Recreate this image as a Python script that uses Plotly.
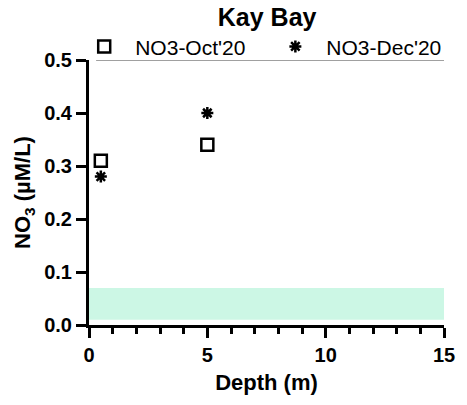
import plotly.graph_objects as go

# Nitrate profile, Kay Bay
depth_oct = [0.5, 5]
no3_oct = [0.31, 0.34]
depth_dec = [0.5, 5]
no3_dec = [0.28, 0.40]

band_low, band_high = 0.01, 0.07
x_ticks = [0, 5, 10, 15]
y_ticks = [0.0, 0.1, 0.2, 0.3, 0.4, 0.5]

FONT = "Liberation Sans, Arial, sans-serif"

fig = go.Figure()

fig.add_trace(go.Scatter(
    x=depth_oct, y=no3_oct, mode="markers", name="NO3-Oct'20",
    legend="legend",
    marker=dict(symbol="square-open", size=12, color="black",
                line=dict(width=2.5, color="black")),
))
fig.add_trace(go.Scatter(
    x=depth_dec, y=no3_dec, mode="markers", name="NO3-Dec'20",
    legend="legend2",
    marker=dict(symbol="asterisk-open", size=10, color="black",
                line=dict(width=2.5, color="black")),
))

# reference range band
fig.add_shape(type="rect", xref="x", yref="y", x0=0, x1=15,
              y0=band_low, y1=band_high, fillcolor="rgb(204,247,229)",
              line=dict(width=0), layer="below")
# rule under the legend
fig.add_shape(type="line", xref="paper", yref="y", x0=0.02, x1=1,
              y0=0.5, y1=0.5, line=dict(color="#808080", width=1.5))

legend_style = dict(orientation="h", xanchor="left", y=1.05,
                    yanchor="middle", font=dict(size=21), itemwidth=52,
                    bgcolor="rgba(0,0,0,0)")

fig.update_layout(
    width=467, height=405,
    margin=dict(l=89, r=18, t=60, b=80),
    plot_bgcolor="white", paper_bgcolor="white",
    font=dict(family=FONT, color="black"),
    title=dict(text="<b>Kay Bay</b>", x=0.572, xanchor="center",
               y=0.957, yanchor="middle", font=dict(size=25)),
    showlegend=True,
    legend=dict(x=-0.0445, **legend_style),
    legend2=dict(x=0.494, **legend_style),
    xaxis=dict(
        range=[0, 15], tickvals=x_ticks,
        ticktext=[f"<b>{v}</b>" for v in x_ticks],
        showgrid=False, zeroline=False, showline=True, linecolor="black",
        linewidth=3, ticks="outside", ticklen=10, tickwidth=2.5,
        tickcolor="black", tickfont=dict(size=20, family=FONT),
        minor=dict(dtick=1, ticks="outside", ticklen=6, tickwidth=2.5,
                   tickcolor="black", showgrid=False),
        title=dict(text="<b>Depth (m)</b>", font=dict(size=22), standoff=10),
    ),
    yaxis=dict(
        range=[0, 0.5], tickvals=y_ticks,
        ticktext=[f"<b>{v:.1f}</b>" for v in y_ticks],
        showgrid=False, zeroline=False, showline=True, linecolor="black",
        linewidth=3, ticks="outside", ticklen=10, tickwidth=2.5,
        tickcolor="black", tickfont=dict(size=20, family=FONT),
        title=dict(text="<b>NO<sub>3</sub> (µM/L)</b>", font=dict(size=22),
                   standoff=8),
    ),
)

fig.write_html("out.html")
